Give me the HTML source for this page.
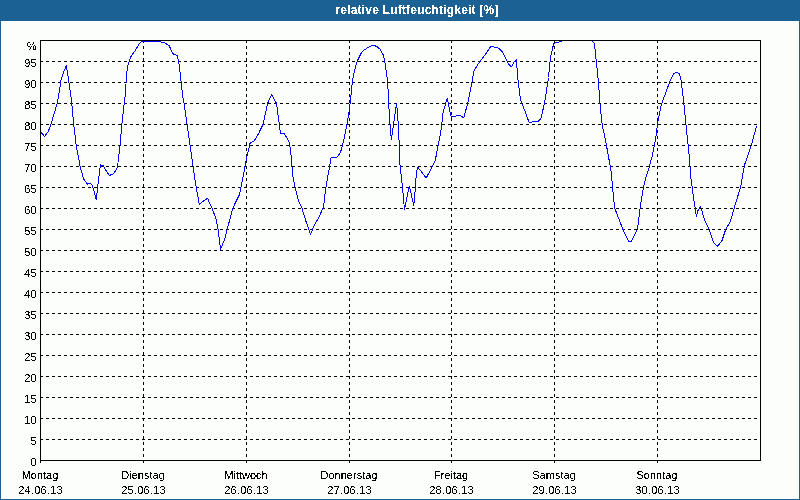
<!DOCTYPE html>
<html><head><meta charset="utf-8"><style>
html,body{margin:0;padding:0;width:800px;height:500px;overflow:hidden;background:#fcfefc}
svg{display:block;position:absolute;left:0;top:0;will-change:transform}
text{font-family:"Liberation Sans",sans-serif;font-size:11px;fill:#000}
</style></head><body>
<svg width="800" height="500" viewBox="0 0 800 500">
<defs><filter id="bin" filterUnits="userSpaceOnUse" x="0" y="0" width="800" height="500"><feComponentTransfer><feFuncA type="discrete" tableValues="0 0 0 0 0 0 0 0 0 1 1 1 1 1 1 1 1 1 1 1"/></feComponentTransfer></filter></defs>
<rect x="0" y="0" width="800" height="500" fill="#fcfefc"/>
<rect x="0" y="0" width="800" height="21" fill="#1c6194" shape-rendering="crispEdges"/>
<rect x="0.5" y="0.5" width="799" height="499" fill="none" stroke="#1c6194" shape-rendering="crispEdges"/>
<text filter="url(#bin)" x="417" y="14" text-anchor="middle" style="font-weight:bold;fill:#fff;font-size:12px;letter-spacing:0.2px">relative Luftfeuchtigkeit [%]</text>
<g stroke="#000" stroke-width="1" stroke-dasharray="3 3" shape-rendering="crispEdges">
<line x1="40" y1="61.5" x2="760" y2="61.5"/>
<line x1="40" y1="82.5" x2="760" y2="82.5"/>
<line x1="40" y1="103.5" x2="760" y2="103.5"/>
<line x1="40" y1="124.5" x2="760" y2="124.5"/>
<line x1="40" y1="145.5" x2="760" y2="145.5"/>
<line x1="40" y1="166.5" x2="760" y2="166.5"/>
<line x1="40" y1="187.5" x2="760" y2="187.5"/>
<line x1="40" y1="208.5" x2="760" y2="208.5"/>
<line x1="40" y1="229.5" x2="760" y2="229.5"/>
<line x1="40" y1="250.5" x2="760" y2="250.5"/>
<line x1="40" y1="271.5" x2="760" y2="271.5"/>
<line x1="40" y1="292.5" x2="760" y2="292.5"/>
<line x1="40" y1="313.5" x2="760" y2="313.5"/>
<line x1="40" y1="334.5" x2="760" y2="334.5"/>
<line x1="40" y1="355.5" x2="760" y2="355.5"/>
<line x1="40" y1="376.5" x2="760" y2="376.5"/>
<line x1="40" y1="397.5" x2="760" y2="397.5"/>
<line x1="40" y1="418.5" x2="760" y2="418.5"/>
<line x1="40" y1="439.5" x2="760" y2="439.5"/>
<line x1="143.5" y1="40" x2="143.5" y2="463"/>
<line x1="246.5" y1="40" x2="246.5" y2="463"/>
<line x1="349.5" y1="40" x2="349.5" y2="463"/>
<line x1="451.5" y1="40" x2="451.5" y2="463"/>
<line x1="554.5" y1="40" x2="554.5" y2="463"/>
<line x1="657.5" y1="40" x2="657.5" y2="463"/>
</g>
<line x1="40.5" y1="460" x2="40.5" y2="463" stroke="#000" shape-rendering="crispEdges"/>
<path d="M40.5 131.5 L44.5 136.5 L48.5 131 L50.5 125.5 L52.5 119 L57.5 102.5 L61.25 78.75 L63.75 72 L66.25 65.5 L68.25 77.5 L71.5 101 L73.8 125 L76.2 145.8 L80.2 166.6 L83.4 178.6 L87.4 184.2 L90.6 183.4 L92.5 185.8 L96.2 199.4 L98.6 179.4 L100.5 164.7 L103.4 165.8 L106.9 172.2 L109.5 175.4 L113.5 173.8 L117.5 167.4 L118.6 157 L120.2 144.2 L121.8 125 L125.5 92.2 L126.5 75 L127.7 66 L129.5 60 L131.5 55.5 L135.5 50.2 L139.2 43.5 L141.5 41.7 L143.5 41.5 L158.7 41.5 L164.5 42.7 L169.2 45.7 L171.5 51 L173.7 54.7 L177.2 55.2 L178.7 61.5 L179.7 69 L181.2 82.5 L182.7 96 L184.3 105 L194.3 175 L196.2 187 L199.2 204.2 L207.5 198.2 L212.5 209.5 L216.2 219.2 L218.3 230.5 L220.5 249.2 L224.7 239.5 L228.5 224.5 L232.7 208.3 L239.5 194.5 L243.5 175 L246.3 159.2 L250.2 142.7 L254.2 140.8 L258.5 133.7 L263.2 124 L267.5 103.7 L271.5 94.7 L276.5 103.3 L280.5 133.3 L284.2 133.3 L289.5 142.7 L291.5 159.2 L292.5 175 L296.25 192.5 L298.75 201.25 L301.75 207.5 L305.5 220 L310.5 234.5 L313.75 226.25 L318.75 217.5 L323.5 207 L325.5 190 L328.5 172.5 L331.25 157 L333.75 157 L336.25 158 L340.5 152.5 L343.75 140 L347.5 121.25 L348.7 114.2 L350.2 103 L352.3 82 L354.2 72.2 L357.2 61 L361.7 52 L364.7 49.7 L369.2 46.7 L373.3 45.2 L377.2 46.7 L380.5 49.7 L383.2 55 L384.7 61 L386.5 73 L387.7 82 L388.7 103 L389.6 118.5 L391.3 139.5 L394.2 120 L396.6 103.5 L397.4 112 L398.6 129 L399.4 150 L399.8 163 L402.5 187.5 L404.5 210 L409.3 186 L413.8 205.5 L415.2 190 L416.4 172 L417.7 167 L426.2 178 L432.5 166.2 L435.3 160.4 L437.2 150 L438.75 142.5 L441.3 129 L443.1 112 L447.2 98.5 L451.2 117.3 L454.8 116.4 L459.3 115.2 L463.8 117.7 L468.3 101 L471.9 82.3 L473.7 71.5 L477.3 65.2 L482.7 58 L487.2 51.7 L490.8 46.3 L494.4 47.2 L498.8 48.1 L502.4 51.7 L506.5 59.8 L508.7 64.3 L511.25 67 L513.75 62.5 L516.25 59.5 L518.25 82.5 L520.5 100 L525.5 112.5 L529.25 123 L533.75 121.25 L537.5 122 L541.25 118 L545.5 97.5 L548.5 77.5 L550.5 57.5 L553.6 44 L555.4 42.8 L560.8 41.5 L562.5 40.5 L592.5 40.5 L592.8 41.5 L594.5 44 L595.5 54 L597.1 68.4 L598.5 82.8 L599.9 103 L602.1 124.2 L605.4 140 L607.8 152.5 L611.25 172.5 L614.5 207.5 L618.75 218.75 L623.75 231.25 L628.5 241.25 L631.25 241.25 L637.5 228.75 L640.5 205 L643.5 187.5 L645.5 178.75 L648.75 168.75 L652.5 155 L655.5 140 L657.5 123.75 L661.25 105 L666.25 91.25 L670.5 80 L673.5 74 L675.5 72.4 L679.5 73.4 L681.25 81.25 L683.75 102.5 L686.25 127.5 L689.5 158.75 L690.5 175 L693.5 197.5 L696.5 217 L697.5 211.25 L700.5 206.25 L704.5 220 L709.5 230 L713.75 243 L717.5 246.25 L721.75 241.25 L725.5 230 L730.5 221.25 L735.5 203.75 L740.5 187.5 L744.5 165 L751.5 145 L756.5 126" fill="none" stroke="#0000ff" stroke-width="1" stroke-linejoin="round" shape-rendering="crispEdges"/>
<rect x="40.5" y="40.5" width="720" height="420" fill="none" stroke="#000" shape-rendering="crispEdges"/>
<g filter="url(#bin)">
<text x="36.6" y="50" text-anchor="end">%</text>
<text x="36.6" y="67" text-anchor="end">95</text>
<text x="36.6" y="88" text-anchor="end">90</text>
<text x="36.6" y="109" text-anchor="end">85</text>
<text x="36.6" y="130" text-anchor="end">80</text>
<text x="36.6" y="151" text-anchor="end">75</text>
<text x="36.6" y="172" text-anchor="end">70</text>
<text x="36.6" y="193" text-anchor="end">65</text>
<text x="36.6" y="214" text-anchor="end">60</text>
<text x="36.6" y="235" text-anchor="end">55</text>
<text x="36.6" y="256" text-anchor="end">50</text>
<text x="36.6" y="277" text-anchor="end">45</text>
<text x="36.6" y="298" text-anchor="end">40</text>
<text x="36.6" y="319" text-anchor="end">35</text>
<text x="36.6" y="340" text-anchor="end">30</text>
<text x="36.6" y="361" text-anchor="end">25</text>
<text x="36.6" y="382" text-anchor="end">20</text>
<text x="36.6" y="403" text-anchor="end">15</text>
<text x="36.6" y="424" text-anchor="end">10</text>
<text x="36.6" y="445" text-anchor="end">5</text>
<text x="36.6" y="466" text-anchor="end">0</text>
<text x="40" y="479" text-anchor="middle">Montag</text>
<text x="40.60" y="494" text-anchor="middle" style="letter-spacing:0.25px">24.06.13</text>
<text x="143" y="479" text-anchor="middle">Dienstag</text>
<text x="143.60" y="494" text-anchor="middle" style="letter-spacing:0.25px">25.06.13</text>
<text x="246" y="479" text-anchor="middle">Mittwoch</text>
<text x="246.60" y="494" text-anchor="middle" style="letter-spacing:0.25px">26.06.13</text>
<text x="349" y="479" text-anchor="middle">Donnerstag</text>
<text x="349.60" y="494" text-anchor="middle" style="letter-spacing:0.25px">27.06.13</text>
<text x="451" y="479" text-anchor="middle">Freitag</text>
<text x="451.60" y="494" text-anchor="middle" style="letter-spacing:0.25px">28.06.13</text>
<text x="554" y="479" text-anchor="middle">Samstag</text>
<text x="554.60" y="494" text-anchor="middle" style="letter-spacing:0.25px">29.06.13</text>
<text x="657" y="479" text-anchor="middle">Sonntag</text>
<text x="657.60" y="494" text-anchor="middle" style="letter-spacing:0.25px">30.06.13</text>
</g>
</svg>
</body></html>
